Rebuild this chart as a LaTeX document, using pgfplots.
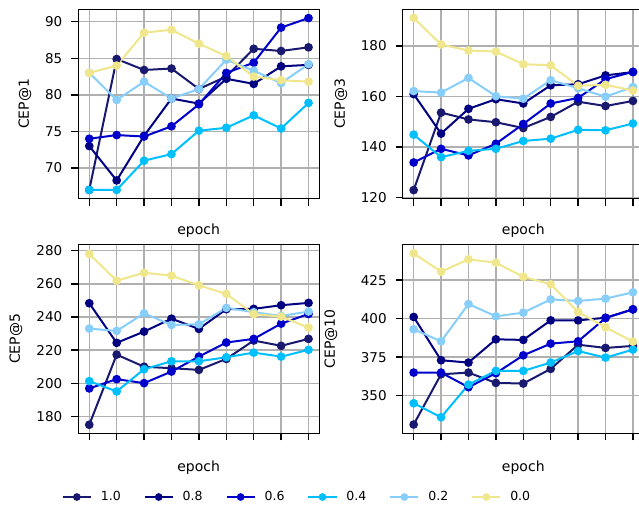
\documentclass[border=0pt]{standalone}
\usepackage{pgfplots}
\pgfplotsset{compat=1.18}
\usepackage{pgfplotstable}
\usepackage{fontspec}
\setmainfont{DejaVu Sans}

\definecolor{cA}{HTML}{191970}
\definecolor{cB}{HTML}{000080}
\definecolor{cC}{HTML}{0000CD}
\definecolor{cD}{HTML}{00BFFF}
\definecolor{cE}{HTML}{87CEFA}
\definecolor{cF}{HTML}{F0E68C}
\definecolor{gridgray}{HTML}{B0B0B0}

\pgfplotstableread{
x a b c d e f
0 67.0 73.0 74.0 67.0 83.0 83.0
1 84.9 68.3 74.5 67.0 79.3 84.0
2 83.4 74.4 74.3 71.0 81.8 88.5
3 83.6 79.5 75.7 71.9 79.5 88.9
4 80.8 78.8 78.7 75.1 80.8 87.0
5 82.5 82.2 83.0 75.5 84.8 85.3
6 86.3 81.5 84.4 77.2 83.3 82.5
7 86.0 83.9 89.2 75.4 81.6 82.0
8 86.5 84.1 90.5 78.9 84.2 81.8
}\tabA
\pgfplotstableread{
x a b c d e f
0 123.0 160.9 133.9 144.9 162.1 191.0
1 153.6 145.3 139.3 136.0 161.5 180.5
2 150.9 155.1 136.7 138.5 167.3 178.1
3 149.8 158.9 141.3 139.3 160.1 177.7
4 147.5 157.2 149.1 142.4 159.1 172.7
5 151.9 164.4 157.2 143.3 166.4 172.3
6 157.9 164.8 159.4 146.8 163.2 164.2
7 156.2 168.3 166.8 146.6 159.9 164.6
8 158.2 169.6 169.7 149.3 163.7 162.3
}\tabB
\pgfplotstableread{
x a b c d e f
0 175.0 248.3 196.9 201.3 233.0 278.0
1 217.3 224.4 202.5 195.1 231.6 261.9
2 210.0 231.2 200.1 208.5 242.2 266.7
3 209.1 239.0 207.1 213.3 235.2 264.9
4 208.1 232.8 216.1 213.3 235.6 259.1
5 214.7 244.7 224.6 215.7 245.5 253.9
6 225.8 244.9 226.8 218.5 242.9 241.8
7 222.6 247.1 236.0 216.1 240.6 240.2
8 226.8 248.5 241.8 220.2 243.3 233.6
}\tabC
\pgfplotstableread{
x a b c d e f
0 331.3 401.1 365.0 345.1 393.1 442.4
1 363.9 373.0 365.0 336.0 385.3 430.5
2 365.0 371.5 355.5 357.2 409.5 438.5
3 358.3 386.6 364.6 366.1 401.5 436.3
4 357.9 386.2 376.2 366.1 403.9 427.2
5 367.4 398.9 383.8 371.5 412.5 422.3
6 383.1 398.9 385.3 379.0 411.5 404.3
7 381.0 400.6 400.4 374.7 413.0 394.4
8 382.3 406.0 406.1 379.9 417.1 385.1
}\tabD

\pgfplotsset{
  sA/.style={color=cA, line width=2pt, mark=*, mark size=3.3pt, mark options={solid, fill=cA, draw=cA}},
  sB/.style={color=cB, line width=2pt, mark=*, mark size=3.3pt, mark options={solid, fill=cB, draw=cB}},
  sC/.style={color=cC, line width=2pt, mark=*, mark size=3.3pt, mark options={solid, fill=cC, draw=cC}},
  sD/.style={color=cD, line width=2pt, mark=*, mark size=3.3pt, mark options={solid, fill=cD, draw=cD}},
  sE/.style={color=cE, line width=2pt, mark=*, mark size=3.3pt, mark options={solid, fill=cE, draw=cE}},
  sF/.style={color=cF, line width=2pt, mark=*, mark size=3.3pt, mark options={solid, fill=cF, draw=cF}},
  cep/.style={
    scale only axis, width=241.2pt,
    anchor=south west,
    xmin=-0.4, xmax=8.4, xtick={0,...,8}, xticklabel={\relax},
    grid=major, major grid style={line width=1.5pt, color=gridgray},
    axis line style={line width=1.5pt, black},
    every tick/.style={line width=1.5pt, black},
    major tick length=7pt, tick align=outside, tick pos=left,
    tick label style={font=\fontsize{13.5}{16}\selectfont},
    yticklabel style={xshift=-5.5pt},
    /pgf/number format/assume math mode=true,
    clip=false,
  },
}

\begin{document}
\begin{tikzpicture}[x=1pt,y=1pt]
\path[use as bounding box, clip] (0,0) rectangle (639,506);

% top-left
\begin{axis}[cep, at={(78.3pt,307.3pt)}, height=189.4pt,
  ymin=65.8, ymax=91.7, ytick={70,75,80,85,90}]
\addplot[sA] table[x=x,y=a]{\tabA};
\addplot[sB] table[x=x,y=b]{\tabA};
\addplot[sC] table[x=x,y=c]{\tabA};
\addplot[sD] table[x=x,y=d]{\tabA};
\addplot[sE] table[x=x,y=e]{\tabA};
\addplot[sF] table[x=x,y=f]{\tabA};
\end{axis}

% top-right
\begin{axis}[cep, at={(402.7pt,307.3pt)}, height=189.4pt,
  ymin=119.6, ymax=194.4, ytick={120,140,160,180}]
\addplot[sA] table[x=x,y=a]{\tabB};
\addplot[sB] table[x=x,y=b]{\tabB};
\addplot[sC] table[x=x,y=c]{\tabB};
\addplot[sD] table[x=x,y=d]{\tabB};
\addplot[sE] table[x=x,y=e]{\tabB};
\addplot[sF] table[x=x,y=f]{\tabB};
\end{axis}

% bottom-left
\begin{axis}[cep, at={(78.3pt,72.7pt)}, height=188.6pt,
  ymin=169.85, ymax=283.6, ytick={180,200,220,240,260,280},
  legend columns=6,
  legend style={at={(axis description cs:0.9026,-0.3378)}, anchor=center,
    draw=none, fill=none, font=\fontsize{12.5}{14}\selectfont,
    nodes={inner sep=0pt, anchor=west, font=\fontsize{12.5}{14}\selectfont},
    /tikz/every odd column/.append style={column sep=9pt},
    /tikz/every even column/.append style={column sep=23pt}},
  legend image code/.code={\draw[mark repeat=2, mark phase=2, mark size=2.8pt, #1] plot coordinates {(0pt,0pt) (14pt,0pt) (28pt,0pt)};}]
\addplot[sA] table[x=x,y=a]{\tabC};
\addplot[sB] table[x=x,y=b]{\tabC};
\addplot[sC] table[x=x,y=c]{\tabC};
\addplot[sD] table[x=x,y=d]{\tabC};
\addplot[sE] table[x=x,y=e]{\tabC};
\addplot[sF] table[x=x,y=f]{\tabC};
\legend{1.0,0.8,0.6,0.4,0.2,0.0}
\end{axis}

% bottom-right
\begin{axis}[cep, at={(402.7pt,72.7pt)}, height=188.6pt,
  ymin=325.6, ymax=448.0, ytick={350,375,400,425}]
\addplot[sA] table[x=x,y=a]{\tabD};
\addplot[sB] table[x=x,y=b]{\tabD};
\addplot[sC] table[x=x,y=c]{\tabD};
\addplot[sD] table[x=x,y=d]{\tabD};
\addplot[sE] table[x=x,y=e]{\tabD};
\addplot[sF] table[x=x,y=f]{\tabD};
\end{axis}

% axis labels
\node[font=\fontsize{14}{16}\selectfont] at (198.6,275) {epoch};
\node[font=\fontsize{14}{16}\selectfont] at (523.3,275) {epoch};
\node[font=\fontsize{14}{16}\selectfont] at (198.6,38.3) {epoch};
\node[font=\fontsize{14}{16}\selectfont] at (523.3,38.3) {epoch};
\node[font=\fontsize{14}{16}\selectfont, rotate=90] at (24.8,402) {CEP@1};
\node[font=\fontsize{14}{16}\selectfont, rotate=90] at (340.8,402) {CEP@3};
\node[font=\fontsize{14}{16}\selectfont, rotate=90] at (15.8,167) {CEP@5};
\node[font=\fontsize{14}{16}\selectfont, rotate=90] at (330.8,167) {CEP@10};
\end{tikzpicture}
\end{document}
